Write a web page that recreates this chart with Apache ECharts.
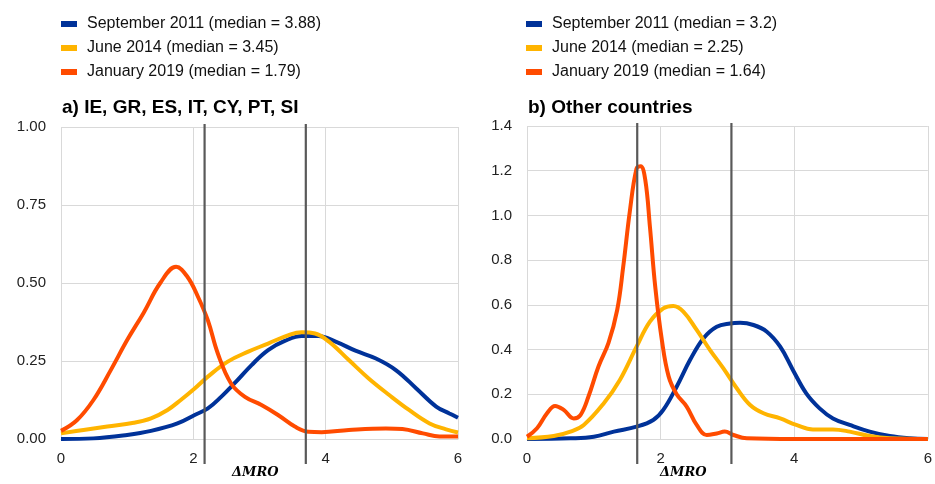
<!DOCTYPE html>
<html>
<head>
<meta charset="utf-8">
<script src="https://cdn.jsdelivr.net/npm/echarts@6/dist/echarts.min.js"></script>
<style>
  html, body { margin: 0; padding: 0; background: #fff; }
  #main { width: 935px; height: 484px; }
</style>
</head>
<body>
<div id="main"></div>
<script>
// panel a) IE, GR, ES, IT, CY, PT, SI
const namesA = ['September 2011 (median = 3.88)', 'June 2014 (median = 3.45)', 'January 2019 (median = 1.79)'];
const sepAX = [0, 0.49, 1.0, 1.36, 1.76, 2.02, 2.22, 2.42, 2.62, 2.88, 3.13, 3.39, 3.64, 3.89, 4.15, 4.45, 4.76, 5.06, 5.37, 5.67, 5.87, 6.0];
const sepAY = [0, 0.002, 0.013, 0.026, 0.05, 0.077, 0.098, 0.135, 0.178, 0.237, 0.285, 0.315, 0.33, 0.33, 0.312, 0.283, 0.258, 0.221, 0.162, 0.104, 0.082, 0.068];
const junAX = [0, 0.34, 0.70, 1.1, 1.36, 1.61, 1.81, 2.02, 2.22, 2.52, 2.83, 3.13, 3.44, 3.64, 3.84, 4.05, 4.35, 4.65, 4.96, 5.26, 5.57, 5.82, 6.0];
const junAY = [0.018, 0.029, 0.04, 0.052, 0.066, 0.093, 0.125, 0.162, 0.20, 0.248, 0.28, 0.306, 0.333, 0.342, 0.338, 0.312, 0.253, 0.194, 0.141, 0.093, 0.05, 0.031, 0.021];
const janAX = [0, 0.24, 0.49, 0.75, 1.0, 1.25, 1.5, 1.74, 1.91, 2.07, 2.22, 2.37, 2.57, 2.78, 3.03, 3.28, 3.54, 3.74, 3.94, 4.35, 4.91, 5.16, 5.47, 5.72, 6.0];
const janAY = [0.026, 0.06, 0.125, 0.22, 0.317, 0.405, 0.50, 0.552, 0.52, 0.456, 0.38, 0.274, 0.178, 0.135, 0.109, 0.077, 0.039, 0.023, 0.022, 0.029, 0.034, 0.032, 0.018, 0.008, 0.008];
const guideA = [2.17, 3.70];
const yTicksA = { min: 0, max: 1, interval: 0.25, digits: 2 };

// panel b) Other countries
const namesB = ['September 2011 (median = 3.2)', 'June 2014 (median = 2.25)', 'January 2019 (median = 1.64)'];
const sepBX = [0, 0.65, 1.0, 1.30, 1.64, 1.89, 2.04, 2.24, 2.44, 2.64, 2.84, 3.04, 3.19, 3.39, 3.59, 3.79, 3.98, 4.18, 4.38, 4.58, 4.83, 5.13, 5.43, 5.73, 6.0];
const sepBY = [0, 0.003, 0.01, 0.033, 0.055, 0.085, 0.13, 0.234, 0.353, 0.45, 0.502, 0.517, 0.52, 0.51, 0.48, 0.413, 0.309, 0.204, 0.137, 0.092, 0.063, 0.033, 0.013, 0.003, 0];
const junBX = [0, 0.40, 0.65, 0.85, 1.15, 1.39, 1.64, 1.84, 2.04, 2.19, 2.34, 2.54, 2.74, 2.94, 3.14, 3.34, 3.54, 3.79, 4.03, 4.28, 4.58, 4.83, 5.13, 5.43, 6.0];
const junBY = [0.003, 0.013, 0.033, 0.063, 0.16, 0.264, 0.413, 0.525, 0.584, 0.595, 0.57, 0.488, 0.398, 0.316, 0.227, 0.152, 0.115, 0.092, 0.063, 0.043, 0.043, 0.033, 0.013, 0.003, 0];
const janBX = [0, 0.15, 0.30, 0.42, 0.55, 0.70, 0.80, 0.92, 1.07, 1.22, 1.35, 1.44, 1.54, 1.64, 1.70, 1.77, 1.84, 1.92, 2.02, 2.12, 2.24, 2.39, 2.54, 2.69, 2.84, 2.96, 3.09, 3.29, 4.0, 5.0, 6.0];
const janBY = [0.01, 0.048, 0.115, 0.148, 0.13, 0.092, 0.107, 0.19, 0.324, 0.43, 0.577, 0.77, 1.02, 1.21, 1.22, 1.16, 0.95, 0.68, 0.44, 0.28, 0.20, 0.145, 0.063, 0.018, 0.025, 0.033, 0.018, 0.003, 0, 0, 0];
const guideB = [1.65, 3.06];
const yTicksB = { min: 0, max: 1.4, interval: 0.2, digits: 1 };

const xTicks = { min: 0, max: 6, interval: 2 };
const colors = ['#003299', '#FFB400', '#FF4B00'];

function pairs(xs, ys) {
  return xs.map((x, i) => [x, ys[i]]);
}

const chart = echarts.init(document.getElementById('main'), null, { renderer: 'canvas' });

function curve(name, xs, ys, color, idx) {
  return {
    name: name,
    type: 'line',
    xAxisIndex: idx,
    yAxisIndex: idx,
    data: pairs(xs, ys),
    smooth: 0.4,
    showSymbol: false,
    symbol: 'none',
    lineStyle: { color: color, width: 4 },
    itemStyle: { color: color },
    emphasis: { disabled: true },
    z: 3
  };
}

// grey vertical lines, running a little past the plot area like the original
function guides(xs, idx, yMax) {
  return {
    type: 'custom',
    xAxisIndex: idx,
    yAxisIndex: idx,
    clip: false,
    z: 5,
    data: xs.map(x => [x, 0]),
    encode: { x: 0, y: 1 },
    renderItem: function (params, api) {
      const top = api.coord([api.value(0), yMax]);
      const bot = api.coord([api.value(0), 0]);
      return {
        type: 'line',
        shape: { x1: top[0], y1: top[1] - 3, x2: bot[0], y2: bot[1] + 25 },
        style: { stroke: '#595959', lineWidth: 2.2 }
      };
    }
  };
}

function xAxisFor(idx) {
  return {
    type: 'value',
    gridIndex: idx,
    min: xTicks.min,
    max: xTicks.max,
    interval: xTicks.interval,
    axisLine: { show: true, lineStyle: { color: '#d9d9d9', width: 1 } },
    axisTick: { show: false },
    axisLabel: { color: '#222', fontSize: 15, fontFamily: 'Liberation Sans', margin: 12 },
    splitLine: { show: true, lineStyle: { color: '#d9d9d9', width: 1 } }
  };
}

function yAxisFor(idx, t) {
  return {
    type: 'value',
    gridIndex: idx,
    min: t.min,
    max: t.max,
    interval: t.interval,
    axisLine: { show: false },
    axisTick: { show: false },
    axisLabel: {
      color: '#222', fontSize: 15, fontFamily: 'Liberation Sans', margin: 15,
      formatter: v => v.toFixed(t.digits)
    },
    splitLine: { show: true, lineStyle: { color: '#d9d9d9', width: 1 } }
  };
}

function legendFor(names, left) {
  return {
    orient: 'vertical',
    left: left,
    top: 11,
    data: names,
    icon: 'rect',
    itemWidth: 16,
    itemHeight: 6,
    itemGap: 8,
    selectedMode: false,
    textStyle: { color: '#111', fontSize: 16, fontFamily: 'Liberation Sans', padding: [0, 0, 0, 5] }
  };
}

const option = {
  animation: false,
  backgroundColor: '#fff',
  title: [
    { text: 'a) IE, GR, ES, IT, CY, PT, SI', left: 57, top: 93,
      textStyle: { fontSize: 19, fontWeight: 'bold', color: '#000', fontFamily: 'Liberation Sans' } },
    { text: 'b) Other countries', left: 523, top: 93,
      textStyle: { fontSize: 19, fontWeight: 'bold', color: '#000', fontFamily: 'Liberation Sans' } }
  ],
  legend: [legendFor(namesA, 56), legendFor(namesB, 521)],
  grid: [
    { left: 61, top: 127, width: 397, height: 312 },
    { left: 527, top: 126, width: 401, height: 313 }
  ],
  xAxis: [xAxisFor(0), xAxisFor(1)],
  yAxis: [yAxisFor(0, yTicksA), yAxisFor(1, yTicksB)],
  graphic: [
    { type: 'text', left: 232, top: 466,
      style: { text: 'ΔMRO', font: 'italic bold 13px "DejaVu Serif"', fill: '#000' } },
    { type: 'text', left: 660, top: 466,
      style: { text: 'ΔMRO', font: 'italic bold 13px "DejaVu Serif"', fill: '#000' } }
  ],
  series: [
    curve(namesA[0], sepAX, sepAY, colors[0], 0),
    curve(namesA[1], junAX, junAY, colors[1], 0),
    curve(namesA[2], janAX, janAY, colors[2], 0),
    guides(guideA, 0, yTicksA.max),
    curve(namesB[0], sepBX, sepBY, colors[0], 1),
    curve(namesB[1], junBX, junBY, colors[1], 1),
    curve(namesB[2], janBX, janBY, colors[2], 1),
    guides(guideB, 1, yTicksB.max)
  ]
};

chart.setOption(option);
</script>
</body>
</html>
